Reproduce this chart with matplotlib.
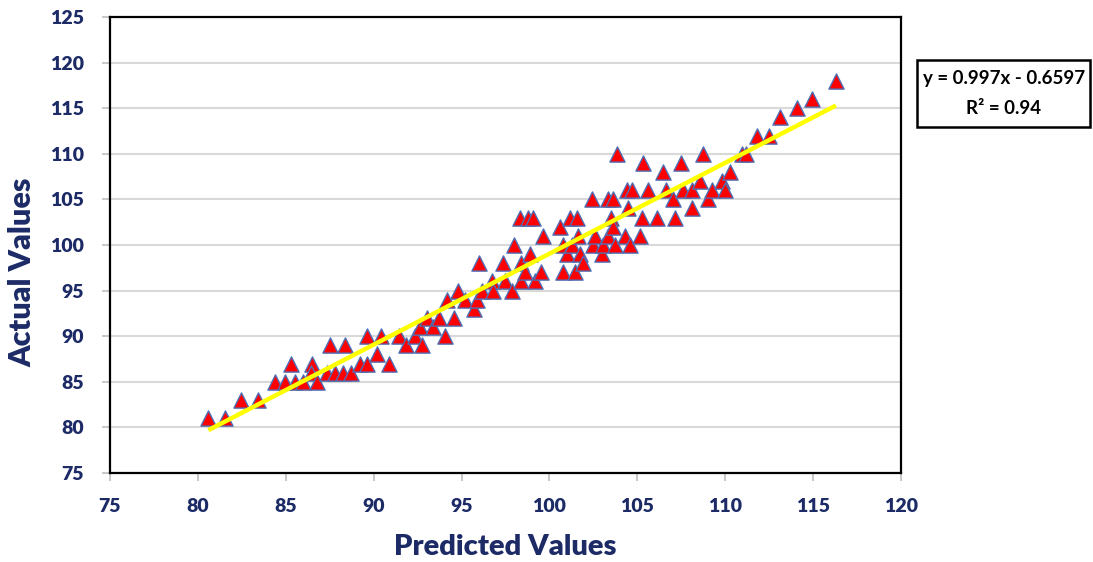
import numpy as np
import matplotlib
matplotlib.use("Agg")
import matplotlib.pyplot as plt
from matplotlib.patches import Rectangle

# Predicted vs actual values
predicted = [
    80.6, 81.55, 82.45, 83.45, 84.4, 84.95, 85.3, 85.5, 86.0, 86.5,
    86.45, 86.8, 87.5, 87.35, 87.8, 88.4, 88.25, 88.7, 89.2, 89.65,
    89.65, 90.2, 90.4, 90.9, 91.45, 91.85, 92.35, 92.65, 92.75, 93.05,
    93.35, 93.7, 94.05, 94.15, 94.6, 94.8, 95.19, 95.7, 95.86, 95.99,
    96.14, 96.71, 96.8, 97.37, 97.5, 97.85, 98.0, 98.32, 98.4, 98.4,
    98.6, 98.76, 98.89, 99.08, 99.17, 99.55, 99.65, 100.6, 100.79, 100.79,
    100.98, 101.17, 101.55, 101.3, 101.45, 101.64, 101.74, 101.92, 102.45, 102.49,
    102.6, 102.97, 103.06, 103.35, 103.35, 103.59, 103.53, 103.63, 103.73, 103.82,
    104.3, 104.39, 104.68, 104.49, 104.58, 105.15, 105.24, 105.3, 105.62, 106.13,
    106.47, 106.66, 107.04, 107.14, 107.46, 107.61, 108.09, 108.09, 108.56, 108.71,
    109.03, 109.25, 109.8, 110.0, 110.27, 110.93, 111.18, 111.82, 112.5, 113.1,
    114.06, 114.95, 116.3,
]
actual = [
    81, 81, 83, 83, 85, 85, 87, 85, 85, 87,
    86, 85, 89, 86, 86, 89, 86, 86, 87, 90,
    87, 88, 90, 87, 90, 89, 90, 91, 89, 92,
    91, 92, 90, 94, 92, 95, 94, 93, 94, 98,
    95, 96, 95, 98, 96, 95, 100, 103, 98, 96,
    97, 103, 99, 103, 96, 97, 101, 102, 100, 97,
    99, 103, 103, 100, 97, 101, 99, 98, 105, 100,
    101, 99, 100, 101, 105, 105, 103, 102, 100, 110,
    101, 106, 106, 104, 100, 101, 103, 109, 106, 103,
    108, 106, 105, 103, 109, 106, 106, 104, 107, 110,
    105, 106, 107, 106, 108, 110, 110, 112, 112, 114,
    115, 116, 118,
]

# Trendline from the chart label
slope, intercept = 0.997, -0.6597
eq_text = "y = 0.997x - 0.6597"
r2_text = "R² = 0.94"

x_ticks = np.arange(75, 121, 5)
y_ticks = np.arange(75, 126, 5)

navy = "#1C2A66"
plt.rcParams['font.family'] = ['Lato', 'DejaVu Sans']

fig = plt.figure(figsize=(10.93, 5.62), dpi=100)
ax = fig.add_axes([0.1006, 0.1584, 0.7237, 0.8114])

ax.scatter(predicted, actual, marker='^', s=120, color='#FF0000',
           edgecolors='#4F6FB5', linewidths=1.0, zorder=3)

xs = np.array([min(predicted), max(predicted)])
ax.plot(xs, slope * xs + intercept, color='#FFFF00', lw=3.2, zorder=4,
        solid_capstyle='butt')

ax.set_xlim(75, 120)
ax.set_ylim(75, 125)
ax.set_xticks(x_ticks)
ax.set_yticks(y_ticks)
ax.grid(axis='y', color='#D9D9D9', lw=1.5, zorder=0)
ax.set_axisbelow(True)
for s in ax.spines.values():
    s.set_linewidth(1.6)
    s.set_color('black')
ax.tick_params(axis='both', colors='#BFBFBF', length=6, width=1.2)
ax.tick_params(axis='y', pad=13)
ax.tick_params(axis='x', pad=12)
for lab in ax.get_xticklabels() + ax.get_yticklabels():
    lab.set_color(navy)
    lab.set_fontweight('heavy')
    lab.set_fontsize(14)

ax.set_xlabel("Predicted Values", fontsize=21, fontweight='heavy', color=navy, labelpad=14)
ax.set_ylabel("Actual Values", fontsize=22, fontweight='heavy', color=navy)
ax.yaxis.set_label_coords(-0.093, 0.44)

# Equation box on the right
fig.add_artist(Rectangle((917 / 1093, 1 - 127 / 562), 173 / 1093, 67 / 562,
                         transform=fig.transFigure, fill=False, lw=1.8, ec='black'))
fig.text(1004 / 1093, 1 - 79 / 562, eq_text, ha='center', va='center',
         fontsize=13.5, fontweight='bold')
fig.text(1004 / 1093, 1 - 109 / 562, r2_text, ha='center', va='center',
         fontsize=13.5, fontweight='bold')

fig.savefig("out.png", dpi=100)
